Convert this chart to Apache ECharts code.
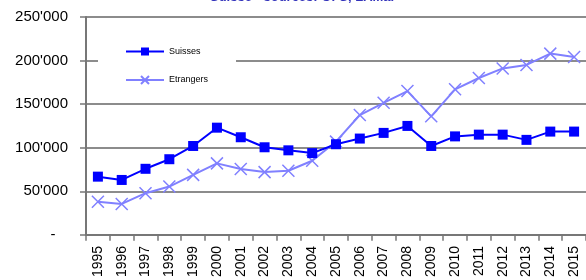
<!DOCTYPE html>
<html>
<head>
<meta charset="utf-8">
<script src="https://cdn.jsdelivr.net/npm/echarts@6/dist/echarts.min.js"></script>
<style>
  html, body { margin: 0; padding: 0; background: #fff; }
  #chart { width: 586px; height: 280px; }
</style>
</head>
<body>
<div id="chart"></div>
<script>
// années
const years = ["1995", "1996", "1997", "1998", "1999", "2000", "2001", "2002", "2003", "2004",
  "2005", "2006", "2007", "2008", "2009", "2010", "2011", "2012", "2013", "2014", "2015"];
const suisses = [66800, 63000, 75800, 86800, 102000, 123000, 112000, 100500, 97000, 93800,
  104000, 110500, 117000, 125000, 102000, 113000, 115000, 115000, 109000, 118500, 118500];
const etrangers = [38000, 35500, 47800, 55400, 68800, 82000, 75500, 72000, 73600, 85000,
  107000, 137500, 151500, 165000, 136000, 167000, 180000, 191000, 195000, 208000, 204000];
const yTicks = [0, 50000, 100000, 150000, 200000, 250000];

const chart = echarts.init(document.getElementById("chart"));

function fmt(v) {
  if (v === 0) return "-\u00a0\u00a0\u00a0";
  return String(v / 1000) + "'000";
}

chart.setOption({
  animation: false,
  title: {
    text: "Suisse - sources: OFS, LAMal",
    left: 210,
    top: -9,
    padding: 0,
    textStyle: { color: "#3333bb", fontSize: 13, fontWeight: "bold", fontFamily: "Liberation Sans" },
  },
  legend: {
    orient: "vertical",
    left: 98,
    top: 35,
    padding: [12, 28, 12, 27],
    backgroundColor: "#fff",
    itemWidth: 38,
    itemHeight: 10,
    itemGap: 19,
    textStyle: { fontSize: 9, color: "#000", fontFamily: "Liberation Sans" },
    data: ["Suisses", "Etrangers"],
  },
  grid: { left: 86, top: 17, width: 506, height: 218 },
  xAxis: {
    type: "category",
    data: years,
    boundaryGap: true,
    axisLine: { lineStyle: { color: "#777", width: 2 } },
    axisTick: { show: true, length: 6, lineStyle: { color: "#777", width: 1.5 } },
    axisLabel: {
      rotate: 90,
      interval: 0,
      margin: 11,
      fontSize: 14,
      color: "#000",
      fontFamily: "Liberation Sans",
    },
  },
  yAxis: {
    type: "value",
    min: yTicks[0],
    max: yTicks[yTicks.length - 1],
    interval: 50000,
    axisLine: { show: true, lineStyle: { color: "#777", width: 2 } },
    axisTick: { show: true, length: 6, lineStyle: { color: "#777", width: 1.5 } },
    axisLabel: {
      margin: 18,
      fontSize: 15,
      color: "#000",
      fontFamily: "Liberation Sans",
      formatter: fmt,
    },
    splitLine: { show: true, lineStyle: { color: "#8c8c8c", width: 2 } },
  },
  series: [
    {
      name: "Suisses",
      type: "line",
      data: suisses,
      color: "#0000ff",
      symbol: "rect",
      symbolSize: 10,
      lineStyle: { width: 2, color: "#0000ff" },
      itemStyle: { color: "#0000ff" },
      z: 3,
    },
    {
      name: "Etrangers",
      type: "line",
      data: etrangers,
      color: "#8080ff",
      symbol: "path://M0,0L10,10M10,0L0,10",
      symbolSize: 12,
      lineStyle: { width: 2, color: "#8080ff" },
      itemStyle: { color: "#8080ff", borderColor: "#8080ff", borderWidth: 1.5 },
      z: 2,
    },
  ],
});
</script>
</body>
</html>
